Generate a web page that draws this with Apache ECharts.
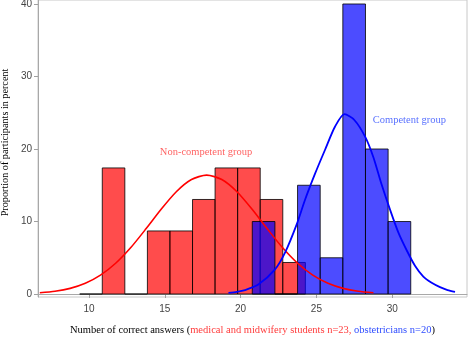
<!DOCTYPE html>
<html><head><meta charset="utf-8">
<script src="https://cdn.jsdelivr.net/npm/echarts@6/dist/echarts.min.js"></script>
<style>html,body{margin:0;padding:0;background:#fff}#c{width:471px;height:337px}</style>
</head><body><div id="c"></div>
<script>
// ---- data ----
const xTicks = [10, 15, 20, 25, 30];
const yTicks = [0, 10, 20, 30, 40];
// Non-competent group (medical and midwifery students, n=23): histogram in percent
const redBinStart = 9.39;
const redBinWidth = 1.488;
const redPercent = [0, 17.39, 0, 8.70, 8.70, 13.04, 17.39, 17.39, 13.04, 4.35];
// Competent group (obstetricians, n=20)
const blueBinStart = 20.77;
const blueBinWidth = 1.493;
const bluePercent = [10, 0, 15, 5, 40, 20, 10];
// Normal curves, points [score, percent]
const redCurve = [[6.76,0.17],[7.76,0.38],[8.76,0.78],[9.76,1.48],[10.76,2.6],[11.76,4.24],[12.76,6.41],[13.76,8.99],[14.76,11.69],[15.76,14.11],[16.76,15.79],[17.76,16.4],[18.76,15.79],[19.76,14.11],[20.76,11.69],[21.76,8.99],[22.76,6.41],[23.76,4.24],[24.76,2.6],[25.76,1.48],[26.76,0.78],[27.76,0.38],[28.76,0.17]];
const blueCurve = [[19.2,0.15],[19.75,0.3],[20.29,0.55],[21.17,1.3],[22.27,3.4],[22.93,5.7],[23.7,9.6],[24.25,13.0],[24.91,16.6],[25.57,19.9],[26.23,23.1],[26.85,24.8],[27.5,24.0],[28.21,21.7],[28.75,18.9],[29.3,15.1],[29.86,11.6],[30.4,8.5],[30.96,6.0],[31.5,3.9],[32.05,2.4],[32.6,1.55],[33.15,0.95],[33.65,0.55],[34.14,0.3]];
const groupLabels = ['Non-competent group', 'Competent group'];
const groupLabelPos = [[17.72, 19.5], [31.13, 23.9]];

function bins(start, w, vals){ return vals.map((v,i)=>[start+i*w, start+(i+1)*w, v]); }

function barRenderer(fill){
  return function(params, api){
    const a = api.coord([api.value(0), api.value(2)]);
    const b = api.coord([api.value(1), 0]);
    return {type:'rect', shape:{x:a[0], y:a[1], width:b[0]-a[0], height:b[1]-a[1]},
      style:{fill:fill, stroke:'rgba(0,0,0,0.8)', lineWidth:1}};
  };
}

const chart = echarts.init(document.getElementById('c'), null, {renderer:'canvas'});
const serif = "'Liberation Serif', 'DejaVu Serif', serif";
const labelColors = ['#ff3b3b', '#2f4dff'];
chart.setOption({
  animation:false,
  grid:{left:38, top:0, width:429, height:297, show:true, borderColor:'#c8c8c8', borderWidth:1,
        backgroundColor:'#fff', containLabel:false, outerBoundsMode:'none'},
  xAxis:{type:'value', min:6.64, max:34.93,
    axisLine:{show:true, lineStyle:{color:'#a8a8a8', width:1}},
    axisTick:{show:true, length:4, customValues:xTicks, lineStyle:{color:'#a0a0a0'}},
    axisLabel:{customValues:xTicks, color:'#444', fontFamily:'Liberation Sans', fontSize:10, margin:7},
    splitLine:{show:false},
    name:'{k|Number of correct answers (}{r|medical and midwifery students n=23, }{b|obstetricians n=20}{k|)}',
    nameLocation:'middle', nameGap:28,
    nameTextStyle:{fontFamily:serif, fontSize:10.5, color:'#000',
      rich:{k:{fontFamily:serif, fontSize:10.5, color:'#000'}, r:{fontFamily:serif, fontSize:10.5, color:'#ff3b3b'}, b:{fontFamily:serif, fontSize:10.5, color:'#2f4dff'}}}
  },
  yAxis:{type:'value', min:-0.41, max:40.55,
    axisLine:{show:true, lineStyle:{color:'#a8a8a8', width:1}},
    axisTick:{show:true, length:4, customValues:yTicks, lineStyle:{color:'#a0a0a0'}},
    axisLabel:{customValues:yTicks, color:'#444', fontFamily:'Liberation Sans', fontSize:10, margin:6},
    splitLine:{show:false},
    name:'Proportion of participants in percent', nameLocation:'middle', nameGap:25,
    nameTextStyle:{fontFamily:serif, fontSize:10.2, color:'#000', padding:[0,0,0,12]}
  },
  series:[
    {type:'custom', renderItem:barRenderer('rgba(255,0,0,0.7)'), data:bins(redBinStart, redBinWidth, redPercent)},
    {type:'line', data:redCurve, smooth:0.25, showSymbol:false, lineStyle:{color:'#ff0000', width:1.6}},
    {type:'custom', renderItem:barRenderer('rgba(0,0,255,0.7)'), data:bins(blueBinStart, blueBinWidth, bluePercent)},
    {type:'line', data:blueCurve, smooth:0.25, showSymbol:false, lineStyle:{color:'#0000ff', width:1.8}},
    {type:'scatter', symbolSize:1, silent:true, itemStyle:{color:'rgba(0,0,0,0)'},
      data:groupLabels.map((n,i)=>({name:n, value:groupLabelPos[i],
        label:{show:true, position:'inside', formatter:'{b}', fontFamily:serif, fontSize:10.5, color:labelColors[i]}}))
    }
  ]
});
</script></body></html>
